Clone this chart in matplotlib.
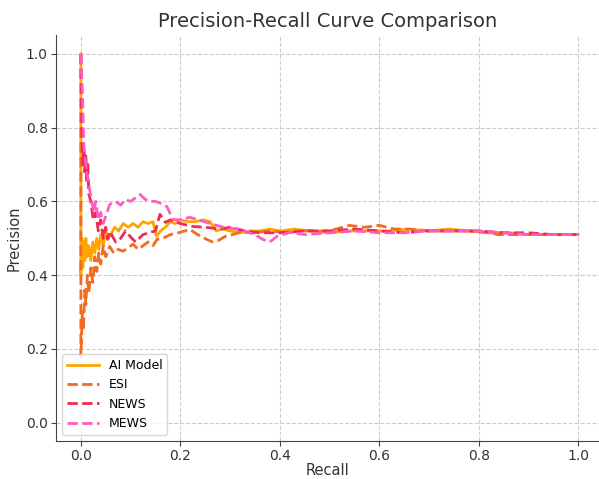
import matplotlib
matplotlib.use("Agg")
import matplotlib.pyplot as plt

# ---- data ----
ai_recall = [0.0, 0.0, 0.002, 0.004, 0.006, 0.008, 0.010, 0.013, 0.016, 0.020, 0.024, 0.028, 0.032, 0.036, 0.040,
             0.045, 0.050, 0.055, 0.060, 0.068, 0.076, 0.085, 0.095, 0.105, 0.115, 0.125, 0.135, 0.145,
             0.152, 0.160, 0.170, 0.180, 0.190, 0.200, 0.215, 0.230, 0.245, 0.260, 0.272, 0.285, 0.300,
             0.320, 0.340, 0.360, 0.380, 0.400, 0.430, 0.460, 0.500, 0.540, 0.580, 0.620, 0.660, 0.700,
             0.740, 0.780, 0.820, 0.860, 0.900, 0.940, 0.970, 1.000]
ai_precision = [1.0, 0.40, 0.50, 0.42, 0.49, 0.44, 0.50, 0.45, 0.48, 0.44, 0.49, 0.46, 0.50, 0.47, 0.51,
                0.48, 0.52, 0.50, 0.51, 0.53, 0.52, 0.54, 0.53, 0.54, 0.53, 0.545, 0.54, 0.545,
                0.505, 0.52, 0.53, 0.545, 0.54, 0.55, 0.545, 0.545, 0.55, 0.545, 0.52, 0.525, 0.52,
                0.515, 0.52, 0.52, 0.525, 0.52, 0.525, 0.52, 0.515, 0.52, 0.52, 0.52, 0.525, 0.52,
                0.525, 0.52, 0.515, 0.515, 0.51, 0.51, 0.51, 0.51]

esi_recall = [0.0, 0.0, 0.003, 0.005, 0.008, 0.010, 0.013, 0.016, 0.020, 0.024, 0.028, 0.032, 0.036, 0.040,
              0.045, 0.050, 0.058, 0.066, 0.075, 0.085, 0.095, 0.105, 0.115, 0.125, 0.135, 0.145, 0.153,
              0.165, 0.180, 0.199, 0.219, 0.235, 0.253, 0.265, 0.274, 0.290, 0.305, 0.320, 0.350, 0.380,
              0.410, 0.450, 0.500, 0.540, 0.570, 0.600, 0.630, 0.660, 0.700, 0.740, 0.780, 0.820, 0.840,
              0.870, 0.900, 0.940, 0.970, 1.000]
esi_precision = [1.0, 0.18, 0.30, 0.25, 0.36, 0.32, 0.40, 0.35, 0.42, 0.38, 0.45, 0.41, 0.46, 0.43,
                 0.48, 0.45, 0.478, 0.46, 0.47, 0.465, 0.475, 0.484, 0.47, 0.48, 0.49, 0.48, 0.497,
                 0.50, 0.51, 0.516, 0.524, 0.51, 0.497, 0.49, 0.492, 0.505, 0.51, 0.516, 0.515, 0.52,
                 0.515, 0.52, 0.52, 0.535, 0.53, 0.535, 0.525, 0.525, 0.52, 0.52, 0.52, 0.515, 0.51,
                 0.51, 0.51, 0.51, 0.51, 0.51]

news_recall = [0.0, 0.002, 0.004, 0.006, 0.008, 0.010, 0.012, 0.014, 0.016, 0.020, 0.025, 0.030, 0.035,
               0.040, 0.045, 0.050, 0.054, 0.058, 0.070, 0.080, 0.090, 0.099, 0.110, 0.125, 0.139, 0.150,
               0.159, 0.170, 0.180, 0.200, 0.225, 0.250, 0.280, 0.300, 0.330, 0.360, 0.400, 0.450, 0.500,
               0.550, 0.600, 0.650, 0.700, 0.750, 0.800, 0.850, 0.900, 0.950, 1.000]
news_precision = [1.0, 0.80, 0.70, 0.75, 0.68, 0.73, 0.65, 0.70, 0.62, 0.60, 0.55, 0.57, 0.52,
                  0.55, 0.50, 0.53, 0.497, 0.519, 0.49, 0.50, 0.52, 0.505, 0.49, 0.51, 0.516, 0.52,
                  0.565, 0.543, 0.55, 0.54, 0.532, 0.53, 0.525, 0.53, 0.52, 0.515, 0.515, 0.52, 0.52,
                  0.525, 0.52, 0.515, 0.52, 0.52, 0.52, 0.515, 0.515, 0.51, 0.51]

mews_recall = [0.0, 0.003, 0.006, 0.010, 0.014, 0.018, 0.022, 0.026, 0.030, 0.035, 0.040, 0.045, 0.050,
               0.058, 0.070, 0.080, 0.090, 0.100, 0.110, 0.119, 0.130, 0.140, 0.150, 0.160, 0.173, 0.185,
               0.200, 0.219, 0.253, 0.286, 0.320, 0.350, 0.366, 0.380, 0.394, 0.420, 0.450, 0.500, 0.550,
               0.600, 0.650, 0.700, 0.750, 0.800, 0.850, 0.900, 0.950, 1.000]
mews_precision = [1.0, 0.90, 0.75, 0.70, 0.66, 0.63, 0.60, 0.57, 0.60, 0.55, 0.57, 0.54, 0.56,
                  0.592, 0.60, 0.59, 0.605, 0.60, 0.61, 0.619, 0.605, 0.60, 0.60, 0.595, 0.586, 0.551,
                  0.55, 0.557, 0.543, 0.53, 0.524, 0.51, 0.497, 0.49, 0.505, 0.516, 0.51, 0.515, 0.52,
                  0.515, 0.515, 0.52, 0.52, 0.52, 0.515, 0.51, 0.51, 0.51]

labels = ["AI Model", "ESI", "NEWS", "MEWS"]
colors = ["#FFA500", "#F26B21", "#EE2A55", "#FF5CBF"]
styles = ["-", "--", "--", "--"]
x_ticks = [0.0, 0.2, 0.4, 0.6, 0.8, 1.0]

fig = plt.figure(figsize=(5.99, 4.79), dpi=100)
ax = fig.add_axes([0.0935, 0.0790, 0.9065, 0.847])

series = [(ai_recall, ai_precision), (esi_recall, esi_precision),
          (news_recall, news_precision), (mews_recall, mews_precision)]
for (r, p), lab, c, ls in zip(series, labels, colors, styles):
    ax.plot(r, p, ls, color=c, lw=2, label=lab)

ax.set_xlim(-0.05, 1.042)
ax.set_ylim(-0.05, 1.05)
ax.set_xticks(x_ticks)
ax.set_yticks(x_ticks)
ax.tick_params(labelsize=10, color="#444444", labelcolor="#333333", pad=2.5)
ax.grid(True, linestyle="--", color="#cccccc", linewidth=0.8)
for s in ["top", "right"]:
    ax.spines[s].set_visible(False)
for s in ["left", "bottom"]:
    ax.spines[s].set_color("#444444")
ax.set_xlabel("Recall", fontsize=10.5, color="#333333", labelpad=0)
ax.set_ylabel("Precision", fontsize=10.5, color="#333333", labelpad=3)
ax.set_title("Precision-Recall Curve Comparison", fontsize=14, color="#333333")
ax.legend(loc="lower left", fontsize=9, framealpha=0.8, handlelength=2.5)

fig.savefig("out.png", dpi=100)
